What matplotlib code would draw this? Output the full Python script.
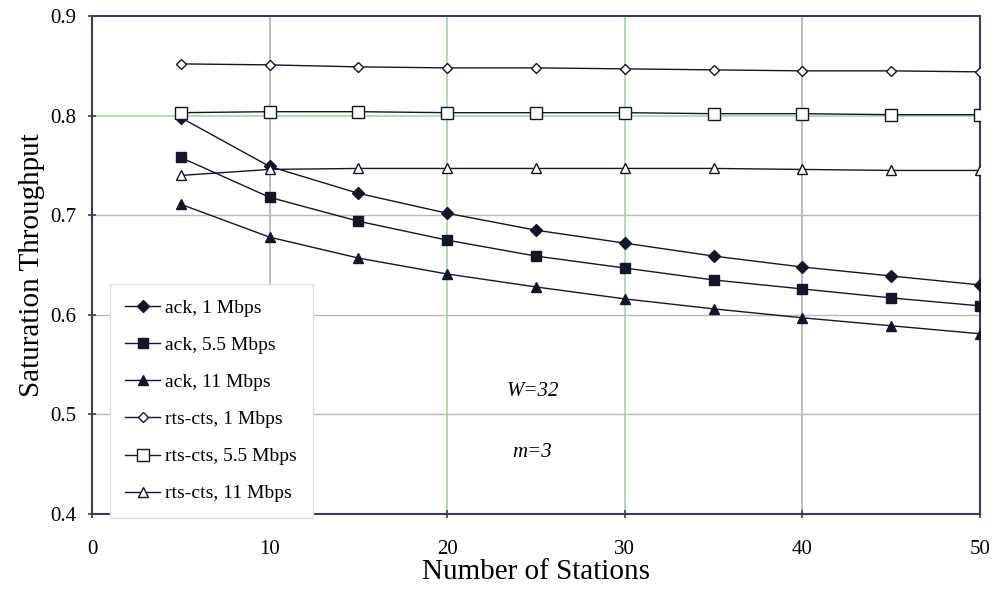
import numpy as np
import matplotlib
matplotlib.use("Agg")
import matplotlib.pyplot as plt

# number of stations
stations = [5, 10, 15, 20, 25, 30, 35, 40, 45, 50]

# basic access (ack)
ack_1 = [0.798, 0.749, 0.722, 0.702, 0.685, 0.672, 0.659, 0.648, 0.639, 0.630]
ack_55 = [0.758, 0.718, 0.694, 0.675, 0.659, 0.647, 0.635, 0.626, 0.617, 0.609]
ack_11 = [0.711, 0.678, 0.657, 0.641, 0.628, 0.616, 0.606, 0.597, 0.589, 0.581]

# rts-cts access
rts_1 = [0.852, 0.851, 0.849, 0.848, 0.848, 0.847, 0.846, 0.845, 0.845, 0.844]
rts_55 = [0.803, 0.804, 0.804, 0.803, 0.803, 0.803, 0.802, 0.802, 0.801, 0.801]
rts_11 = [0.740, 0.746, 0.747, 0.747, 0.747, 0.747, 0.747, 0.746, 0.745, 0.745]

labels = ["ack, 1 Mbps", "ack, 5.5 Mbps", "ack, 11 Mbps",
          "rts-cts, 1 Mbps", "rts-cts, 5.5 Mbps", "rts-cts, 11 Mbps"]

plt.rcParams['font.family'] = ['Liberation Serif', 'DejaVu Serif']

fig = plt.figure(figsize=(9.97, 5.98), dpi=100)
ax = fig.add_axes([0.0923, 0.1405, 0.8906, 0.8326])

line_col = "#15152a"
# (marker, size, filled)
styles = [("D", 6, True), ("s", 7.5, True), ("^", 7.5, True),
          ("D", 5.5, False), ("s", 8, False), ("^", 7.5, False)]
series = [ack_1, ack_55, ack_11, rts_1, rts_55, rts_11]

for ys, lab, (m, ms, filled) in zip(series, labels, styles):
    ax.plot(stations, ys, color=line_col, lw=1.0, marker=m, markersize=ms,
            markerfacecolor=line_col if filled else "white",
            markeredgecolor=line_col, markeredgewidth=1.0, label=lab, zorder=3)

ax.set_xlim(0, 50)
ax.set_ylim(0.4, 0.9)
ax.set_xticks([0, 10, 20, 30, 40, 50])
ax.set_yticks([0.4, 0.5, 0.6, 0.7, 0.8, 0.9])
ax.set_yticklabels(["0.4", "0.5", "0.6", "0.7", "0.8", "0.9"])

# gridlines (scanned original has some greenish ones)
for x in [10, 40]:
    ax.axvline(x, color="#b0b0b0", lw=1.2, zorder=1)
for x in [20, 30]:
    ax.axvline(x, color="#b8d8b8", lw=1.5, zorder=1)
for y in [0.5, 0.6, 0.7]:
    ax.axhline(y, color="#b8b8b8", lw=1.0, zorder=1)
ax.axhline(0.8, color="#b8dcb8", lw=1.5, zorder=1)

for s in ax.spines.values():
    s.set_color("#3c3c5a")
    s.set_linewidth(1.5)

ax.tick_params(axis="both", direction="inout", length=6, width=1.2,
               color="#3c3c5a", labelsize=15, pad=8)
ax.tick_params(axis="x", pad=16)

ax.set_xlabel("Number of Stations", fontsize=21, labelpad=0)
ax.set_ylabel("Saturation Throughput", fontsize=21, labelpad=4)

ax.text(24.8, 0.5225, "W=32", fontsize=15, style="italic", ha="center", va="center")
ax.text(24.8, 0.462, "m=3", fontsize=15, style="italic", ha="center", va="center")

leg = ax.legend(loc="lower left", bbox_to_anchor=(0.02, -0.008), fontsize=14,
                frameon=True, fancybox=False, framealpha=1, edgecolor="#d8e8d8",
                handlelength=1.8, handletextpad=0.25, labelspacing=1.0,
                borderpad=0.8, borderaxespad=0)
leg.get_frame().set_linewidth(1.0)
leg.set_zorder(5)

fig.savefig("out.png", dpi=100)
